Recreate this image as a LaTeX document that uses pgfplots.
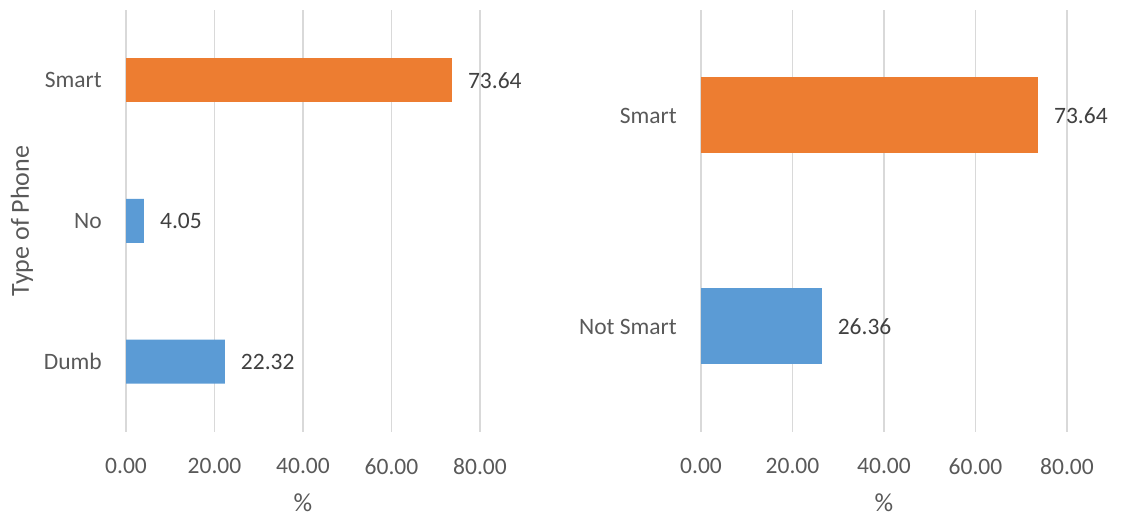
\documentclass[border=0pt]{standalone}
\usepackage{fontspec}
\setmainfont{Carlito}
\usepackage{pgfplots}
\pgfplotsset{compat=1.18}
\definecolor{txtgray}{HTML}{595959}
\definecolor{lblgray}{HTML}{404040}
\definecolor{gridgray}{HTML}{D9D9D9}
\definecolor{xlorange}{HTML}{ED7D31}
\definecolor{xlblue}{HTML}{5B9BD5}
\pgfplotsset{
  myaxis/.style={
    scale only axis,
    anchor=south west,
    height=422bp,
    xbar,
    xmin=0, xmax=80,
    xtick={0,20,40,60,80},
    xmajorgrids,
    grid style={color=gridgray, line width=1.2bp},
    axis line style={draw=none},
    major tick length=0pt,
    tick style={draw=none},
    font=\fontsize{23.5bp}{28bp}\selectfont,
    /pgf/number format/assume math mode=true,
    xticklabel style={/pgf/number format/.cd, fixed, fixed zerofill, precision=2, /tikz/.cd, inner sep=0pt, yshift=-26bp, color=txtgray},
    yticklabel style={inner sep=0pt, xshift=-24bp, color=txtgray},
    xlabel style={at={(axis description cs:0.5,0)}, anchor=center, inner sep=0pt, yshift=-71bp, color=txtgray, font=\fontsize{26bp}{30bp}\selectfont},
    ylabel style={at={([xshift=-104bp]axis description cs:0,0.5)}, anchor=center, inner sep=0pt, color=txtgray, font=\fontsize{26bp}{30bp}\selectfont},
    nodes near coords={\pgfmathprintnumber[fixed,fixed zerofill,precision=2]{\pgfplotspointmeta}},
    every node near coord/.append style={anchor=west, inner sep=0pt, xshift=16bp, color=lblgray},
    point meta=explicit,
  }
}
\begin{document}
\fontsize{23.5bp}{28bp}\selectfont
\begin{tikzpicture}
\useasboundingbox (0,0) rectangle (1121bp,519bp);
\begin{axis}[myaxis,
  at={(126bp,87bp)}, width=354bp,
  ymin=-0.5, ymax=2.5,
  ytick={0,1,2}, yticklabels={Dumb,No,Smart},
  bar width=44bp,
  xlabel={\%}, ylabel={Type of Phone}]
\addplot[fill=xlblue, draw=none, bar shift=0pt] coordinates {(22.32,0) [22.32] (4.05,1) [4.05]};
\addplot[fill=xlorange, draw=none, bar shift=0pt] coordinates {(73.64,2) [73.64]};
\end{axis}
\begin{axis}[myaxis,
  at={(701bp,87bp)}, width=366bp,
  ymin=-0.5, ymax=1.5,
  ytick={0,1}, yticklabels={Not Smart,Smart},
  bar width=76bp,
  xlabel={\%}]
\addplot[fill=xlblue, draw=none, bar shift=0pt] coordinates {(26.36,0) [26.36]};
\addplot[fill=xlorange, draw=none, bar shift=0pt] coordinates {(73.64,1) [73.64]};
\end{axis}
\end{tikzpicture}
\end{document}
